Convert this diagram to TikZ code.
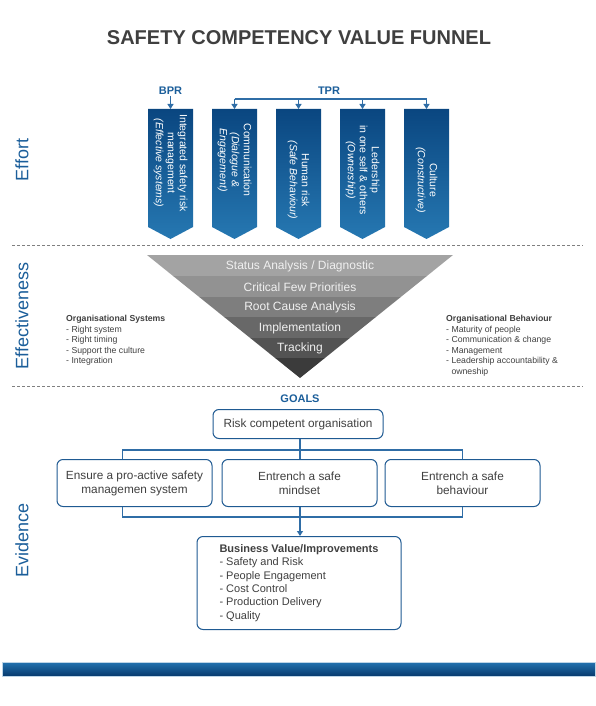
\documentclass[tikz,border=0pt]{standalone}
\usepackage{fontspec}
\setmainfont{Liberation Sans}
\usetikzlibrary{arrows.meta,positioning}
\definecolor{titlegray}{HTML}{3F3F3F}
\definecolor{textgray}{HTML}{404040}
\definecolor{labelblue}{HTML}{1B5E9A}
\definecolor{efforttop}{HTML}{0A4680}
\definecolor{effortbot}{HTML}{2678B2}
\definecolor{linkblue}{HTML}{2F6DA6}
\definecolor{boxblue}{HTML}{1F5A92}
\definecolor{bartop}{HTML}{2373B0}
\definecolor{barbot}{HTML}{073A6E}

\begin{document}
\begin{tikzpicture}[x=1pt,y=-1pt]
\tikzset{
  sidelabel/.style={rotate=90,text=labelblue,font=\fontsize{18}{20}\selectfont},
  headlabel/.style={text=labelblue,font=\fontsize{11}{13}\selectfont\bfseries,inner sep=1pt},
  effortbox/.style={top color=efforttop,bottom color=effortbot,draw=none},
  efforttext/.style={rotate=-90,align=center,text=white,font=\fontsize{10.5}{12}\selectfont,inner sep=0pt},
  bandtext/.style={text=white!94!black,font=\fontsize{12}{14}\selectfont},
  goalbox/.style={draw=boxblue,rounded corners=6pt,line width=1pt,fill=white,align=center,
    text=textgray,font=\fontsize{11.8}{14}\selectfont,inner sep=2pt},
  notetext/.style={align=left,text=textgray,font=\fontsize{8.7}{10.5}\selectfont,anchor=north west,inner sep=0pt},
  link/.style={draw=linkblue,line width=1.4pt},
  directed/.style={link,-{Triangle[length=5pt,width=6pt]}},
  sepline/.style={draw=gray,dash pattern=on 3pt off 2pt,line width=0.8pt}
}
\useasboundingbox (0,0) rectangle (595,706);
\node[text=titlegray,font=\fontsize{20}{24}\selectfont\bfseries] (n_title) at (299,38) {SAFETY COMPETENCY VALUE FUNNEL};

% side labels and separators
\node[sidelabel] (n_effort) at (22,160) {Effort};
\node[sidelabel] (n_effectiveness) at (22,316) {Effectiveness};
\node[sidelabel] (n_evidence) at (22,540) {Evidence};
\draw[sepline] (12,245) -- (583,245);
\draw[sepline] (12,386) -- (583,386);

% effort boxes
\shade[effortbox] (148,109) -- (193,109) -- (193,227) -- (170.5,239) -- (148,227) -- cycle;
\shade[effortbox] (212,109) -- (257,109) -- (257,227) -- (234.5,239) -- (212,227) -- cycle;
\shade[effortbox] (276,109) -- (321,109) -- (321,227) -- (298.5,239) -- (276,227) -- cycle;
\shade[effortbox] (340,109) -- (385,109) -- (385,227) -- (362.5,239) -- (340,227) -- cycle;
\shade[effortbox] (404,109) -- (449,109) -- (449,227) -- (426.5,239) -- (404,227) -- cycle;
\coordinate (n_box_0) at (170.5,109);
\coordinate (n_box_1) at (234.5,109);
\coordinate (n_box_2) at (298.5,109);
\coordinate (n_box_3) at (362.5,109);
\coordinate (n_box_4) at (426.5,109);
\node[efforttext] (n_txt_0) at (170.5,163) {Integrated safety risk\\management\\\itshape(Effective systems)};
\node[efforttext] (n_txt_1) at (234.5,160) {Communication\\\itshape(Dialogue \&\\\itshape Engagement)};
\node[efforttext] (n_txt_2) at (298.5,180) {Human risk\\\itshape(Safe Behaviour)};
\node[efforttext] (n_txt_3) at (362.5,170) {Ledership\\in one self \& others\\\itshape(Ownership)};
\node[efforttext] (n_txt_4) at (426.5,180) {Culture\\\itshape(Constructive)};

\node[headlabel] (n_bpr) at (170.5,91) {BPR};
\node[headlabel] (n_tpr) at (329,91) {TPR};
\coordinate (c_tpr) at (330,99);
\draw[directed] (n_bpr) -- (n_box_0);
\draw[link] (c_tpr -| n_box_1) -- (c_tpr -| n_box_4);
\draw[directed] (c_tpr -| n_box_1) -- (n_box_1);
\draw[directed] (c_tpr -| n_box_2) -- (n_box_2);
\draw[directed] (c_tpr -| n_box_3) -- (n_box_3);
\draw[directed] (c_tpr -| n_box_4) -- (n_box_4);

% funnel
\fill[fill={rgb,255:red,163;green,163;blue,163}] (147,255) -- (453,255) -- (426.9,276) -- (173.1,276) -- cycle;
\fill[fill={rgb,255:red,146;green,146;blue,146}] (173.1,276) -- (426.9,276) -- (400.8,297) -- (199.2,297) -- cycle;
\fill[fill={rgb,255:red,126;green,126;blue,126}] (199.2,297) -- (400.8,297) -- (375.9,317) -- (224.1,317) -- cycle;
\fill[fill={rgb,255:red,104;green,104;blue,104}] (224.1,317) -- (375.9,317) -- (349.8,338) -- (250.2,338) -- cycle;
\fill[fill={rgb,255:red,83;green,83;blue,83}] (250.2,338) -- (349.8,338) -- (324.9,358) -- (275.1,358) -- cycle;
\fill[fill={rgb,255:red,59;green,59;blue,59}] (275.1,358) -- (324.9,358) -- (300,378) -- cycle;
\node[bandtext] (n_status) at (300,266) {Status Analysis / Diagnostic};
\node[bandtext] (n_priorities) at (300,287) {Critical Few Priorities};
\node[bandtext] (n_rootcause) at (300,307) {Root Cause Analysis};
\node[bandtext] (n_implement) at (300,328) {Implementation};
\node[bandtext] (n_tracking) at (300,348) {Tracking};

\node[notetext] (n_systems) at (66,315) {\bfseries Organisational Systems\\- Right system\\- Right timing\\- Support the culture\\- Integration};
\node[notetext] (n_behaviour) at (446,315) {\bfseries Organisational Behaviour\\- Maturity of people\\- Communication \& change\\- Management\\- Leadership accountability \&\\\phantom{- }owneship};

% goals
\node[headlabel] (n_goals) at (300,399) {GOALS};
\node[goalbox,minimum width=170pt,minimum height=29pt] (n_risk) at (298,424) {Risk competent organisation};
\node[goalbox,minimum width=155pt,minimum height=47pt] (n_ensure) at (134.5,483) {Ensure a pro-active safety\\managemen system};
\node[goalbox,minimum width=155pt,minimum height=47pt] (n_mindset) at (299.5,483) {Entrench a safe\\mindset};
\node[goalbox,minimum width=155pt,minimum height=47pt] (n_behave) at (462.5,483) {Entrench a safe\\behaviour};
\node[goalbox,minimum width=204pt,minimum height=93pt,align=left,font=\fontsize{11}{13.3}\selectfont] (n_value) at (299,583)
  {\bfseries Business Value/Improvements\\- Safety and Risk\\- People Engagement\\- Cost Control\\- Production Delivery\\- Quality};
\coordinate (c_goal) at (300,450);
\coordinate (c_value) at (300,517);
\draw[link] (n_risk.south -| c_goal) -- (c_goal);
\draw[link] (c_goal) -| ([xshift=-12pt]n_ensure.north);
\draw[link] (c_goal) -| (n_behave.north);
\draw[link] (c_goal) -- (n_mindset.north -| c_goal);
\draw[link] ([xshift=-12pt]n_ensure.south) |- (c_value);
\draw[link] (n_behave.south) |- (c_value);
\draw[directed] (n_mindset.south -| c_value) -- (n_value.north -| c_value);

% bottom bar
\shade[top color=bartop,bottom color=barbot,draw=white!70!bartop,line width=0.6pt] (2,662) rectangle (595,676);
\end{tikzpicture}
\end{document}
